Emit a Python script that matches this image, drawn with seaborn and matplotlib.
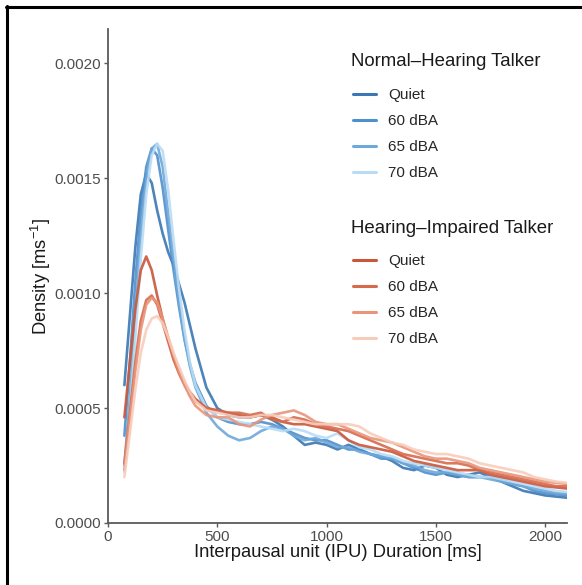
import matplotlib
matplotlib.use("Agg")
import numpy as np
import pandas as pd
import seaborn as sns
import matplotlib.pyplot as plt
from matplotlib.lines import Line2D

# Evaluation grid of the density estimates (ms)
duration_ms = [75, 100, 125, 150, 175, 200, 225, 250, 275, 300, 325, 350, 375, 400,
               450, 500, 550, 600, 650, 700, 750, 800, 850, 900, 950, 1000, 1050,
               1100, 1150, 1200, 1250, 1300, 1350, 1400, 1450, 1500, 1550, 1600,
               1650, 1700, 1750, 1800, 1850, 1900, 1950, 2000, 2050, 2100]

# Density values in units of 1e-4 per ms
nh_quiet = [6.0, 9.0, 12.0, 14.3, 15.2, 14.8, 13.6, 12.6, 11.8, 11.2, 10.4, 9.6, 8.6, 7.6,
            5.9, 5.0, 4.7, 4.6, 4.6, 4.7, 4.5, 4.2, 3.8, 3.4, 3.5, 3.4, 3.2,
            3.4, 3.2, 3.0, 2.9, 2.7, 2.4, 2.3, 2.5, 2.4, 2.1, 2.0,
            2.1, 2.2, 2.0, 1.8, 1.6, 1.4, 1.3, 1.2, 1.15, 1.1]
nh_60 = [3.8, 7.0, 10.5, 13.5, 15.5, 16.3, 16.0, 14.6, 12.8, 11.0, 9.4, 8.0, 6.9, 6.1,
         5.1, 4.6, 4.4, 4.3, 4.3, 4.4, 4.3, 4.1, 3.9, 3.7, 3.6, 3.6, 3.4,
         3.2, 3.2, 3.0, 2.8, 2.8, 2.6, 2.4, 2.2, 2.1, 2.2, 2.1,
         2.0, 2.0, 2.0, 1.9, 1.7, 1.6, 1.4, 1.3, 1.25, 1.2]
nh_65 = [2.5, 5.5, 9.0, 12.5, 15.0, 16.3, 16.5, 15.5, 13.5, 11.5, 9.6, 8.0, 6.8, 5.9,
         4.8, 4.2, 3.8, 3.6, 3.7, 4.0, 4.2, 4.1, 3.8, 3.6, 3.7, 3.5, 3.3,
         3.3, 3.1, 3.0, 2.9, 2.8, 2.6, 2.5, 2.3, 2.2, 2.2, 2.1,
         2.0, 2.0, 1.9, 1.8, 1.7, 1.6, 1.5, 1.4, 1.3, 1.3]
nh_70 = [2.2, 4.8, 8.0, 11.5, 14.3, 16.0, 16.5, 16.2, 14.5, 12.3, 10.2, 8.4, 7.0, 6.0,
         5.0, 4.6, 4.5, 4.4, 4.3, 4.2, 4.1, 4.0, 4.1, 4.0, 3.8, 3.7, 3.9,
         3.6, 3.3, 3.2, 3.0, 2.9, 2.7, 2.6, 2.5, 2.4, 2.3, 2.2,
         2.1, 2.0, 2.0, 1.9, 1.8, 1.7, 1.6, 1.5, 1.4, 1.35]
hi_quiet = [4.6, 7.0, 9.3, 11.0, 11.6, 11.0, 9.9, 8.9, 8.0, 7.2, 6.6, 6.1, 5.7, 5.4,
            5.0, 4.9, 4.8, 4.7, 4.6, 4.7, 4.6, 4.4, 4.3, 4.3, 4.2, 4.1, 4.0,
            3.6, 3.4, 3.3, 3.2, 3.1, 2.9, 2.7, 2.6, 2.5, 2.4, 2.3,
            2.3, 2.3, 2.1, 2.0, 1.9, 1.8, 1.7, 1.6, 1.55, 1.5]
hi_60 = [2.6, 4.8, 7.0, 8.8, 9.7, 9.9, 9.5, 8.7, 7.9, 7.1, 6.5, 6.0, 5.6, 5.3,
         5.0, 4.9, 4.8, 4.8, 4.7, 4.8, 4.5, 4.4, 4.6, 4.5, 4.3, 4.2, 4.1,
         4.0, 3.8, 3.6, 3.4, 3.2, 3.0, 2.9, 2.8, 2.7, 2.6, 2.6,
         2.5, 2.3, 2.2, 2.1, 2.0, 1.9, 1.8, 1.7, 1.6, 1.6]
hi_65 = [2.3, 4.5, 6.6, 8.4, 9.5, 9.8, 9.6, 8.9, 8.1, 7.3, 6.6, 6.0, 5.5, 5.1,
         4.7, 4.6, 4.6, 4.3, 4.2, 4.5, 4.7, 4.8, 4.9, 4.7, 4.4, 4.3, 4.3,
         4.1, 3.9, 3.7, 3.6, 3.5, 3.3, 3.1, 2.9, 2.8, 2.8, 2.7,
         2.6, 2.4, 2.3, 2.2, 2.1, 2.0, 1.9, 1.8, 1.75, 1.7]
hi_70 = [2.0, 3.9, 5.8, 7.4, 8.4, 8.9, 9.0, 8.7, 8.1, 7.4, 6.8, 6.2, 5.7, 5.3,
         4.9, 4.8, 4.7, 4.6, 4.6, 4.7, 4.7, 4.6, 4.5, 4.4, 4.3, 4.3, 4.3,
         4.3, 4.2, 3.9, 3.7, 3.5, 3.4, 3.2, 3.1, 3.0, 3.0, 2.9,
         2.8, 2.6, 2.5, 2.4, 2.3, 2.2, 2.0, 1.9, 1.8, 1.75]

conditions = ["Quiet", "60 dBA", "65 dBA", "70 dBA"]
groups = ["Normal\u2013Hearing Talker", "Hearing\u2013Impaired Talker"]
nh_colors = ["#3a77b3", "#4f8fcb", "#6fa9da", "#b9dcf5"]
hi_colors = ["#c9573a", "#d66a4b", "#e8957b", "#f8ccbb"]

series = {
    ("NH", "Quiet"): nh_quiet, ("NH", "60 dBA"): nh_60,
    ("NH", "65 dBA"): nh_65, ("NH", "70 dBA"): nh_70,
    ("HI", "Quiet"): hi_quiet, ("HI", "60 dBA"): hi_60,
    ("HI", "65 dBA"): hi_65, ("HI", "70 dBA"): hi_70,
}

rows = []
for (talker, cond), vals in series.items():
    for d, v in zip(duration_ms, vals):
        rows.append({"duration": d, "density": v * 1e-4, "key": f"{talker} {cond}"})
df = pd.DataFrame(rows)

hue_order = [f"NH {c}" for c in conditions] + [f"HI {c}" for c in conditions]
palette = dict(zip(hue_order, nh_colors + hi_colors))

sns.set_theme(style="white")
plt.rcParams["font.family"] = ["Liberation Sans", "DejaVu Sans"]
plt.rcParams["mathtext.fontset"] = "custom"
plt.rcParams["mathtext.rm"] = "Liberation Sans"
plt.rcParams["mathtext.default"] = "regular"

W, H = 582, 585
fig = plt.figure(figsize=(W / 100, H / 100), dpi=100)
ax = fig.add_axes([108 / W, 62 / H, (567 - 108) / W, (523 - 29) / H])

sns.lineplot(data=df, x="duration", y="density", hue="key", hue_order=hue_order,
             palette=palette, estimator=None, sort=False, linewidth=1.9,
             alpha=0.9, legend=False, ax=ax)

ax.set_xlim(0, 2100)
ax.set_ylim(0, 0.00215)
ax.set_xticks([0, 500, 1000, 1500, 2000])
ax.set_yticks([0.0, 0.0005, 0.0010, 0.0015, 0.0020])
ax.set_yticklabels(["0.0000", "0.0005", "0.0010", "0.0015", "0.0020"])

axis_grey = "#5a5a5a"
for side in ["top", "right"]:
    ax.spines[side].set_visible(False)
for side in ["left", "bottom"]:
    ax.spines[side].set_color(axis_grey)
    ax.spines[side].set_linewidth(1.3)
ax.tick_params(axis="both", which="major", length=3, width=1.0, color=axis_grey,
               labelsize=11, labelcolor="#4d4d4d", pad=2,
               left=True, bottom=True)

ax.set_xlabel("Interpausal unit (IPU) Duration [ms]", fontsize=13.2, color="#1a1a1a", labelpad=0)
ax.set_ylabel("Density [ms$^{-1}$]", fontsize=13.2, color="#1a1a1a", labelpad=1)

# Two stacked legends, one per talker group; titles drawn as separate text
def make_legend(title, colors, title_y, first_row_top):
    fig.text(351 / W, 1 - title_y / H, title, fontsize=13.4, color="#1a1a1a",
             ha="left", va="center")
    handles = [Line2D([0], [0], color=c, lw=2.2) for c in colors]
    leg = ax.legend(handles, conditions, loc="upper left",
                    bbox_to_anchor=(353 / W, 1 - first_row_top / H),
                    bbox_transform=fig.transFigure,
                    frameon=False, fontsize=11,
                    handlelength=1.5, handletextpad=0.8, labelspacing=0.785,
                    borderaxespad=0, borderpad=0)
    return leg

leg1 = make_legend(groups[0], nh_colors, 62, 88)
ax.add_artist(leg1)
leg2 = make_legend(groups[1], hi_colors, 229, 254)

# Outer frame lines (top and left)
fig.add_artist(Line2D([6 / W, 1.0], [1 - 7 / H, 1 - 7 / H], color="black",
                      lw=2.2, transform=fig.transFigure))
fig.add_artist(Line2D([7 / W, 7 / W], [0.0, 1 - 6 / H], color="black",
                      lw=2.2, transform=fig.transFigure))

fig.savefig("out.png", dpi=100)
